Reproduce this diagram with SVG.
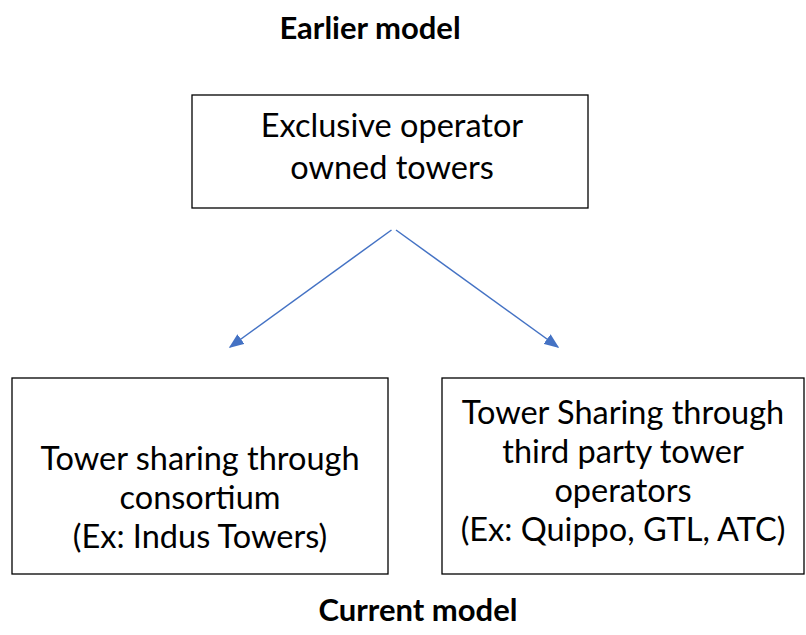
<svg xmlns="http://www.w3.org/2000/svg" width="806" height="635" viewBox="0 0 806 635">
<style>
.box{fill:#fff;stroke:#000;stroke-width:1.3}
.t{font-family:Lato,"Open Sans","Liberation Sans",sans-serif;font-size:32.5px;fill:#000;text-anchor:middle}
.h{font-family:Lato,"Open Sans","Liberation Sans",sans-serif;font-size:31px;font-weight:bold;fill:#000;text-anchor:middle}
.c{stroke:#4472C4;stroke-width:1.5;fill:none;marker-end:url(#ah)}
</style>
<defs>
<marker id="ah" markerWidth="10" markerHeight="8" refX="9" refY="4" orient="auto" markerUnits="strokeWidth" viewBox="0 0 10 8">
<path d="M0,0 L10,4 L0,8 Z" fill="#4472C4"/>
</marker>
</defs>
<rect width="806" height="635" fill="#fff"/>
<text class="h" x="370" y="39">Earlier model</text>
<text class="h" x="418" y="621">Current model</text>
<g id="connectors">
<line class="c" x1="391.5" y1="230" x2="230" y2="347"/>
<line class="c" x1="396" y1="230" x2="558" y2="347"/>
</g>
<g id="top">
<rect class="box" x="192" y="95" width="396" height="113"/>
<text class="t" x="392" y="137">Exclusive operator</text>
<text class="t" x="392" y="179">owned towers</text>
</g>
<g id="left">
<rect class="box" x="12" y="378" width="376" height="196"/>
<text class="t" x="200" y="470">Tower sharing through</text>
<text class="t" x="200" y="509">consortium</text>
<text class="t" x="200" y="548">(Ex: Indus Towers)</text>
</g>
<g id="right">
<rect class="box" x="442" y="378" width="362" height="196"/>
<text class="t" x="623" y="424">Tower Sharing through</text>
<text class="t" x="623" y="463">third party tower</text>
<text class="t" x="623" y="502">operators</text>
<text class="t" x="623" y="541">(Ex: Quippo, GTL, ATC)</text>
</g>
</svg>
